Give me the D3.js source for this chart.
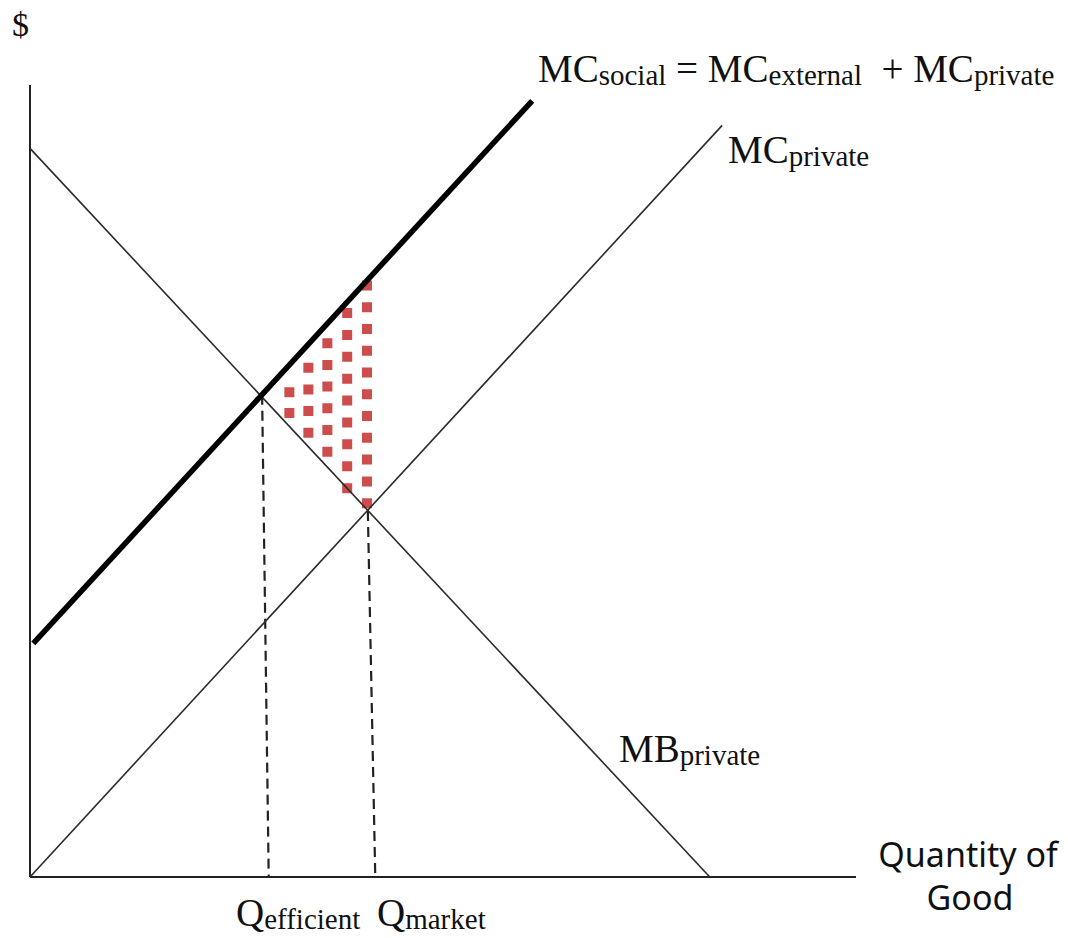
<!DOCTYPE html>
<html>
<head>
<meta charset="utf-8">
<script src="https://cdn.jsdelivr.net/npm/d3@7"></script>
<style>
    html, body { margin: 0; padding: 0; background: #fff; }
    #chart-area svg { display: block; }
</style>
</head>
<body>
<div id="chart-area"></div>
<script>
// curve end points, in (quantity, price) units
const mbPrivate = [[0, 92.0], [82.3, 0]];
const mcPrivate = [[0, 0], [83.8, 94.9]];
const mcSocial = [[0.4, 29.5], [60.8, 98.0]];

// dashed drop lines: top point, foot on the axis
const qLines = [
    { name: 'efficient', top: [28.1, 60.9], foot: [28.9, 0] },
    { name: 'market', top: [40.9, 46.2], foot: [41.8, 0] }
];

// dotted deadweight-loss columns: quantity, top price, bottom price, number of dots
const dotColumns = [
    { q: 31.4, top: 61.2, bottom: 58.6, n: 2 },
    { q: 33.7, top: 64.3, bottom: 56.1, n: 4 },
    { q: 36.0, top: 67.4, bottom: 53.7, n: 6 },
    { q: 38.4, top: 71.2, bottom: 49.1, n: 9 },
    { q: 40.8, top: 74.7, bottom: 47.2, n: 11 }
];

window.addEventListener('DOMContentLoaded', (event) => {

    const W = 1068;
    const H = 938;

    const svg = d3.select('#chart-area')
        .append('svg')
        .attr('width', W)
        .attr('height', H);

    const x = d3.scaleLinear().domain([0, 100]).range([30, 856]);
    const y = d3.scaleLinear().domain([0, 100]).range([877, 85]);

    const line = d3.line()
        .x((d) => x(d[0]))
        .y((d) => y(d[1]));

    // axes (plain lines, no ticks)
    svg.append('line')
        .attr('x1', x(0)).attr('y1', y(0))
        .attr('x2', x(0)).attr('y2', y(100))
        .attr('stroke', '#222').attr('stroke-width', 2);
    svg.append('line')
        .attr('x1', x(0)).attr('y1', y(0))
        .attr('x2', x(100)).attr('y2', y(0))
        .attr('stroke', '#222').attr('stroke-width', 2);

    // dotted area
    dotColumns.forEach((c) => {
        const dot = 10;
        const y0 = y(c.top) - dot / 2;
        const y1 = y(c.bottom) + dot / 2;
        const step = c.n > 1 ? (y(c.bottom) - y(c.top)) / (c.n - 1) : dot * 2;
        svg.append('line')
            .attr('x1', x(c.q)).attr('y1', y0)
            .attr('x2', x(c.q)).attr('y2', y1)
            .attr('stroke', '#cc4d4b')
            .attr('stroke-width', dot)
            .attr('stroke-dasharray', `${dot},${step - dot}`);
    });

    // dashed drops
    qLines.forEach((q) => {
        svg.append('path')
            .attr('d', line([q.top, q.foot]))
            .attr('fill', 'none')
            .attr('stroke', '#222')
            .attr('stroke-width', 2.2)
            .attr('stroke-dasharray', '10,6');
    });

    svg.append('path')
        .attr('d', line(mbPrivate))
        .attr('fill', 'none')
        .attr('stroke', '#2a2a2a')
        .attr('stroke-width', 1.6);

    svg.append('path')
        .attr('d', line(mcPrivate))
        .attr('fill', 'none')
        .attr('stroke', '#2a2a2a')
        .attr('stroke-width', 1.6);

    svg.append('path')
        .attr('d', line(mcSocial))
        .attr('fill', 'none')
        .attr('stroke', '#000')
        .attr('stroke-width', 5.5);

    // labels
    const serif = '"Liberation Serif", "Times New Roman", serif';

    const label = (px, py, parts) => {
        const t = svg.append('text')
            .attr('x', px).attr('y', py)
            .attr('font-family', serif)
            .attr('fill', '#111')
            .attr('xml:space', 'preserve');
        parts.forEach((p) => {
            t.append('tspan')
                .attr('font-size', p.sub ? 29 : 39)
                .attr('dy', p.sub ? 3 : (p.back ? -3 : 0))
                .text(p.t);
        });
        return t;
    };

    label(538, 82, [
        { t: 'MC' }, { t: 'social', sub: true },
        { t: ' = MC', back: true }, { t: 'external', sub: true },
        { t: '  + MC', back: true }, { t: 'private', sub: true }
    ]);

    label(728, 163, [{ t: 'MC' }, { t: 'private', sub: true }]);
    label(619, 762, [{ t: 'MB' }, { t: 'private', sub: true }]);
    label(236, 926, [{ t: 'Q' }, { t: 'efficient', sub: true }]);
    label(377, 926, [{ t: 'Q' }, { t: 'market', sub: true }]);

    svg.append('text')
        .attr('x', 12).attr('y', 36)
        .attr('font-family', serif)
        .attr('font-size', 34)
        .attr('fill', '#111')
        .text('$');

    const sans = '"Noto Sans", sans-serif';
    svg.append('text')
        .attr('x', 968).attr('y', 867)
        .attr('text-anchor', 'middle')
        .attr('font-family', sans)
        .attr('font-size', 34)
        .attr('fill', '#111')
        .text('Quantity of');
    svg.append('text')
        .attr('x', 970).attr('y', 910)
        .attr('text-anchor', 'middle')
        .attr('font-family', sans)
        .attr('font-size', 34)
        .attr('fill', '#111')
        .text('Good');

}); // End of document ready.
</script>
</body>
</html>
